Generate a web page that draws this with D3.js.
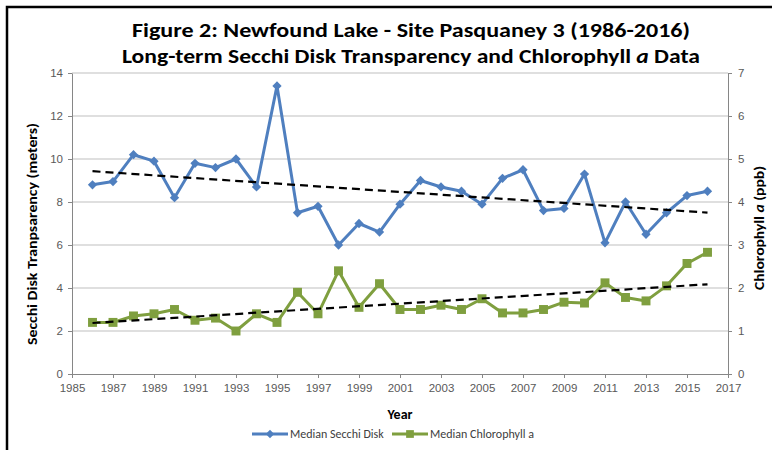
<!DOCTYPE html>
<html>
<head>
<meta charset="utf-8">
<script src="https://cdn.jsdelivr.net/npm/d3@7"></script>
<style>
  body { margin: 0; background: #fff; }
  svg { display: block; font-family: Carlito, "Liberation Sans Narrow", "Open Sans", sans-serif; }
</style>
</head>
<body>
<svg id="chart" width="772" height="450"></svg>
<script>
// data
let years = d3.range(1986, 2017);
let secchi = [8.8, 8.95, 10.2, 9.9, 8.2, 9.8, 9.6, 10.0, 8.7, 13.4,
              7.5, 7.8, 6.0, 7.0, 6.6, 7.9, 9.0, 8.7, 8.5, 7.9,
              9.1, 9.5, 7.6, 7.7, 9.3, 6.1, 8.0, 6.5, 7.5, 8.3, 8.5];
let chla = [1.2, 1.2, 1.35, 1.4, 1.5, 1.25, 1.3, 1.0, 1.4, 1.2,
            1.9, 1.4, 2.4, 1.55, 2.1, 1.5, 1.5, 1.6, 1.5, 1.75,
            1.42, 1.42, 1.5, 1.67, 1.65, 2.12, 1.78, 1.7, 2.05, 2.57, 2.83];
let xTicks = d3.range(1985, 2018, 2);
let leftTicks = [0, 2, 4, 6, 8, 10, 12, 14];
let rightTicks = [0, 1, 2, 3, 4, 5, 6, 7];

let blue = "#4f7fbf", green = "#7f9f3f";
let svg = d3.select("#chart");

// frame
svg.append("path").attr("d", "M7,450 V7 H772")
  .attr("fill", "none").attr("stroke", "#000").attr("stroke-width", 2.5);

let x = d3.scaleLinear().domain([1985, 2017]).range([72, 728]);
let yL = d3.scaleLinear().domain([0, 14]).range([374, 73]);
let yR = d3.scaleLinear().domain([0, 7]).range([374, 73]);

// gridlines
svg.append("g").selectAll("line").data(leftTicks.slice(1)).join("line")
  .attr("x1", 72).attr("x2", 728)
  .attr("y1", d => yL(d)).attr("y2", d => yL(d))
  .attr("stroke", "#bfbfbf").attr("stroke-width", 1.2);

// axes
function styleAxis(g) {
  g.select(".domain").attr("stroke", "#868686");
  g.selectAll(".tick line").attr("stroke", "#868686");
  g.selectAll(".tick text").attr("fill", "#595959").style("font-size", "11.5px");
}
svg.append("g").attr("transform", "translate(0,374)")
  .call(d3.axisBottom(x).tickValues(xTicks).tickFormat(d3.format("d")).tickSize(4).tickSizeOuter(0).tickPadding(6))
  .call(styleAxis);
svg.append("g").attr("transform", "translate(72,0)")
  .call(d3.axisLeft(yL).tickValues(leftTicks).tickFormat(d3.format("d")).tickSize(4).tickSizeOuter(0).tickPadding(5))
  .call(styleAxis);
svg.append("g").attr("transform", "translate(728,0)")
  .call(d3.axisRight(yR).tickValues(rightTicks).tickFormat(d3.format("d")).tickSize(4).tickSizeOuter(0).tickPadding(6))
  .call(styleAxis);

// linear trend lines (least squares, as the spreadsheet does)
function trend(vals) {
  let mx = d3.mean(years), my = d3.mean(vals);
  let b = d3.sum(years, (t, i) => (t - mx) * (vals[i] - my)) / d3.sum(years, t => (t - mx) * (t - mx));
  let a = my - b * mx;
  return [years[0], years[years.length - 1]].map(t => [t, a + b * t]);
}

function series(vals, y, color, symbol, size) {
  let line = d3.line().x((d, i) => x(years[i])).y(d => y(d));
  svg.append("path").datum(vals).attr("d", line)
    .attr("fill", "none").attr("stroke", color).attr("stroke-width", 3).attr("stroke-linejoin", "round");
  svg.append("g").selectAll("path").data(vals).join("path")
    .attr("transform", (d, i) => `translate(${x(years[i])},${y(d)})`)
    .attr("d", d3.symbol(symbol, size)).attr("fill", color);
  let tl = trend(vals);
  svg.append("path").attr("d", d3.line().x(d => x(d[0])).y(d => y(d[1]))(tl))
    .attr("fill", "none").attr("stroke", "#000").attr("stroke-width", 2.2).attr("stroke-dasharray", "8,5");
}
series(secchi, yL, blue, d3.symbolDiamond2, 55);
series(chla, yR, green, d3.symbolSquare, 80);

// titles
svg.append("text").attr("x", 411).attr("y", 37).attr("text-anchor", "middle")
  .attr("textLength", 558).attr("lengthAdjust", "spacingAndGlyphs")
  .style("font-size", "20px").style("font-weight", "bold")
  .text("Figure 2: Newfound Lake - Site Pasquaney 3 (1986-2016)");
let t2 = svg.append("text").attr("x", 411).attr("y", 63).attr("text-anchor", "middle")
  .attr("textLength", 578).attr("lengthAdjust", "spacingAndGlyphs")
  .style("font-size", "20px").style("font-weight", "bold");
t2.append("tspan").text("Long-term Secchi Disk Transparency and Chlorophyll ");
t2.append("tspan").style("font-style", "italic").text("a");
t2.append("tspan").text(" Data");

svg.append("text").attr("transform", "translate(37,234) rotate(-90)").attr("text-anchor", "middle")
  .attr("textLength", 222).attr("lengthAdjust", "spacingAndGlyphs")
  .style("font-size", "13px").style("font-weight", "bold")
  .text("Secchi Disk Tranpsarency (meters)");
let rt = svg.append("text").attr("transform", "translate(764,228) rotate(-90)").attr("text-anchor", "middle")
  .attr("textLength", 124).attr("lengthAdjust", "spacingAndGlyphs")
  .style("font-size", "13px").style("font-weight", "bold");
rt.append("tspan").text("Chlorophyll ");
rt.append("tspan").style("font-style", "italic").text("a");
rt.append("tspan").text(" (ppb)");

svg.append("text").attr("x", 400).attr("y", 419).attr("text-anchor", "middle")
  .style("font-size", "14px").style("font-weight", "bold").text("Year");

// legend
let legend = [
  { name: "Median Secchi Disk", color: blue, symbol: d3.symbolDiamond2, size: 45, x: 252 },
  { name: "Median Chlorophyll a", color: green, symbol: d3.symbolSquare, size: 60, x: 392 }
];
let lg = svg.append("g").selectAll("g").data(legend).join("g")
  .attr("transform", d => `translate(${d.x},434)`);
lg.append("line").attr("x1", 0).attr("x2", 36).attr("stroke", d => d.color).attr("stroke-width", 3);
lg.append("path").attr("transform", "translate(18,0)").attr("d", d => d3.symbol(d.symbol, d.size)()).attr("fill", d => d.color);
lg.append("text").attr("x", 38).attr("y", 4).style("font-size", "12px").attr("fill", "#404040").text(d => d.name);
</script>
</body>
</html>
